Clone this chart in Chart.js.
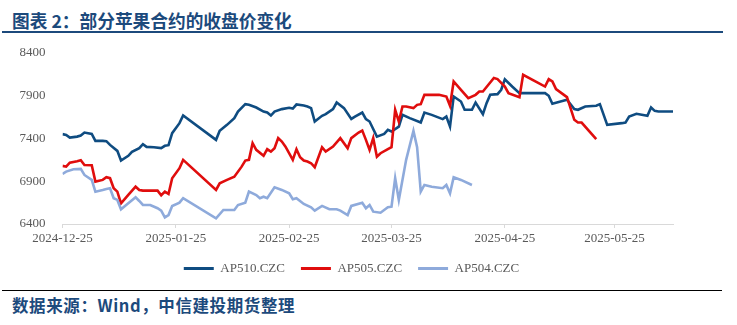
<!DOCTYPE html>
<html lang="zh-CN">
<head>
<meta charset="utf-8">
<title>部分苹果合约的收盘价变化</title>
<script src="https://cdn.jsdelivr.net/npm/chart.js@4.4.0/dist/chart.umd.min.js"></script>
<style>
    html, body { margin: 0; padding: 0; background: #fff; }
    body { width: 737px; height: 325px; position: relative; overflow: hidden; }
    .judul {
        position: absolute; left: 2px; top: 0; width: 721px; height: 33px;
        border-bottom: 2px solid #1c4a7c;
        font: bold 17.7px "Noto Sans CJK SC", sans-serif; color: #1c4a7c;
        line-height: 40px; padding-left: 10px; box-sizing: border-box;
    }
    .grafik { position: absolute; left: 0; top: 36px; width: 737px; height: 252px; }
    .sumber {
        position: absolute; left: 2px; top: 290px; width: 720px; height: 35px;
        border-top: 1px solid #000;
        font: bold 16.5px "Noto Sans CJK SC", sans-serif; color: #1c4a7c;
        letter-spacing: 0.6px;
        line-height: 28px; padding-left: 10px; box-sizing: border-box;
    }
</style>
</head>
<body>
<div class="judul">图表 2：部分苹果合约的收盘价变化</div>
<div class="grafik"><canvas id="lineChart"></canvas></div>
<div class="sumber">数据来源：Wind，中信建投期货整理</div>

<script>
// --- Data ---
const seriesNames = ['AP510.CZC', 'AP505.CZC', 'AP504.CZC'];
const xTickDates = ['2024-12-25', '2025-01-25', '2025-02-25', '2025-03-25', '2025-04-25', '2025-05-25'];
const xEndDate = '2025-06-10';
const yTicks = [6400, 6900, 7400, 7900, 8400];

const ap510Dates = [
    '2024-12-25', '2024-12-26', '2024-12-27', '2024-12-29', '2024-12-30', '2024-12-31', '2025-01-02', '2025-01-03', '2025-01-05', '2025-01-06',
    '2025-01-07', '2025-01-09', '2025-01-10', '2025-01-12', '2025-01-13', '2025-01-15', '2025-01-16', '2025-01-17', '2025-01-19', '2025-01-21',
    '2025-01-22', '2025-01-23', '2025-01-24', '2025-01-26', '2025-01-27', '2025-02-05', '2025-02-06', '2025-02-08', '2025-02-10', '2025-02-11',
    '2025-02-13', '2025-02-14', '2025-02-16', '2025-02-18', '2025-02-19', '2025-02-20', '2025-02-21', '2025-02-23', '2025-02-25', '2025-02-26',
    '2025-02-27', '2025-03-01', '2025-03-02', '2025-03-03', '2025-03-04', '2025-03-06', '2025-03-07', '2025-03-09', '2025-03-10', '2025-03-12',
    '2025-03-14', '2025-03-15', '2025-03-17', '2025-03-18', '2025-03-19', '2025-03-21', '2025-03-23', '2025-03-24', '2025-03-25', '2025-03-27',
    '2025-03-28', '2025-03-30', '2025-04-02', '2025-04-03', '2025-04-05', '2025-04-08', '2025-04-09', '2025-04-10', '2025-04-11', '2025-04-13',
    '2025-04-14', '2025-04-16', '2025-04-17', '2025-04-19', '2025-04-20', '2025-04-21', '2025-04-23', '2025-04-24', '2025-04-25', '2025-04-27',
    '2025-04-29', '2025-04-30', '2025-05-06', '2025-05-07', '2025-05-08', '2025-05-12', '2025-05-14', '2025-05-15', '2025-05-17', '2025-05-20',
    '2025-05-21', '2025-05-23', '2025-05-27', '2025-05-28', '2025-05-29', '2025-05-31', '2025-06-03', '2025-06-04', '2025-06-05', '2025-06-06',
    '2025-06-10'
];
const ap510Values = [
    7450, 7441, 7410, 7421, 7433, 7468, 7453, 7371, 7371, 7368,
    7324, 7254, 7141, 7196, 7242, 7286, 7332, 7301, 7297, 7286,
    7313, 7321, 7461, 7578, 7667, 7383, 7488, 7558, 7637, 7714,
    7800, 7792, 7761, 7714, 7702, 7667, 7714, 7742, 7757, 7749,
    7796, 7784, 7772, 7754, 7597, 7664, 7683, 7742, 7819, 7754,
    7628, 7655, 7702, 7625, 7597, 7421, 7453, 7500, 7480, 7538,
    7675, 7637, 7585, 7702, 7675, 7625, 7655, 7538, 7889, 7831,
    7734, 7734, 7819, 7683, 7812, 7909, 7917, 7968, 8090, 8006,
    7929, 7929, 7929, 7898, 7804, 7851, 7742, 7734, 7772, 7781,
    7800, 7558, 7578, 7585, 7655, 7687, 7664, 7761, 7722, 7715,
    7714
];

const ap505Dates = [
    '2024-12-25', '2024-12-26', '2024-12-27', '2024-12-29', '2024-12-30', '2024-12-31', '2025-01-02', '2025-01-03', '2025-01-05', '2025-01-06',
    '2025-01-07', '2025-01-08', '2025-01-09', '2025-01-10', '2025-01-12', '2025-01-14', '2025-01-15', '2025-01-16', '2025-01-20', '2025-01-21',
    '2025-01-22', '2025-01-23', '2025-01-24', '2025-01-26', '2025-01-27', '2025-02-05', '2025-02-06', '2025-02-08', '2025-02-10', '2025-02-12',
    '2025-02-13', '2025-02-14', '2025-02-15', '2025-02-16', '2025-02-18', '2025-02-19', '2025-02-20', '2025-02-21', '2025-02-22', '2025-02-23',
    '2025-02-24', '2025-02-26', '2025-02-27', '2025-02-28', '2025-03-01', '2025-03-02', '2025-03-03', '2025-03-04', '2025-03-06', '2025-03-07',
    '2025-03-09', '2025-03-11', '2025-03-13', '2025-03-14', '2025-03-16', '2025-03-17', '2025-03-18', '2025-03-19', '2025-03-20', '2025-03-21',
    '2025-03-22', '2025-03-24', '2025-03-25', '2025-03-26', '2025-03-27', '2025-03-28', '2025-03-29', '2025-03-31', '2025-04-01', '2025-04-02',
    '2025-04-03', '2025-04-07', '2025-04-09', '2025-04-10', '2025-04-11', '2025-04-13', '2025-04-15', '2025-04-17', '2025-04-18', '2025-04-19',
    '2025-04-22', '2025-04-23', '2025-04-25', '2025-04-26', '2025-04-29', '2025-04-30', '2025-05-06', '2025-05-07', '2025-05-08', '2025-05-09',
    '2025-05-12', '2025-05-14', '2025-05-15', '2025-05-16', '2025-05-20'
];
const ap505Values = [
    7079, 7070, 7117, 7134, 7145, 7090, 7087, 6895, 6915, 6946,
    6935, 6818, 6778, 6642, 6739, 6836, 6798, 6790, 6790, 6736,
    6778, 6751, 6935, 7052, 7149, 6798, 6876, 6915, 6953, 7070,
    7141, 7149, 7344, 7266, 7196, 7274, 7246, 7286, 7403, 7363,
    7304, 7149, 7274, 7180, 7141, 7129, 7110, 7063, 7297, 7246,
    7304, 7403, 7286, 7403, 7468, 7492, 7383, 7266, 7403, 7187,
    7227, 7274, 7297, 7734, 7597, 7772, 7772, 7754, 7792, 7800,
    7909, 7909, 7889, 7781, 8065, 7968, 7871, 7909, 7948, 7948,
    8105, 8093, 8006, 7929, 7882, 8143, 8006, 8093, 8065, 7976,
    7882, 7617, 7585, 7585, 7391
];

const ap504Dates = [
    '2024-12-25', '2024-12-26', '2024-12-28', '2024-12-30', '2024-12-31', '2025-01-02', '2025-01-03', '2025-01-05', '2025-01-06', '2025-01-07',
    '2025-01-08', '2025-01-09', '2025-01-10', '2025-01-12', '2025-01-14', '2025-01-15', '2025-01-16', '2025-01-18', '2025-01-20', '2025-01-21',
    '2025-01-22', '2025-01-23', '2025-01-24', '2025-01-26', '2025-01-27', '2025-02-05', '2025-02-07', '2025-02-10', '2025-02-11', '2025-02-13',
    '2025-02-14', '2025-02-16', '2025-02-17', '2025-02-18', '2025-02-19', '2025-02-21', '2025-02-23', '2025-02-25', '2025-02-26', '2025-02-27',
    '2025-03-01', '2025-03-03', '2025-03-04', '2025-03-06', '2025-03-08', '2025-03-10', '2025-03-11', '2025-03-13', '2025-03-14', '2025-03-17',
    '2025-03-18', '2025-03-19', '2025-03-20', '2025-03-22', '2025-03-24', '2025-03-25', '2025-03-26', '2025-03-27', '2025-03-29', '2025-03-31',
    '2025-04-01', '2025-04-02', '2025-04-03', '2025-04-05', '2025-04-08', '2025-04-09', '2025-04-10', '2025-04-11', '2025-04-13', '2025-04-16'
];
const ap504Values = [
    6985, 7012, 7040, 7044, 6973, 6915, 6778, 6798, 6810, 6818,
    6701, 6681, 6572, 6642, 6712, 6669, 6622, 6622, 6584, 6556,
    6478, 6505, 6611, 6649, 6701, 6467, 6564, 6564, 6622, 6649,
    6778, 6739, 6701, 6719, 6701, 6829, 6798, 6759, 6689, 6701,
    6634, 6595, 6556, 6611, 6572, 6572, 6556, 6505, 6611, 6649,
    6584, 6622, 6544, 6532, 6595, 6602, 6935, 6681, 7149, 7488,
    7297, 6778, 6856, 6836, 6818, 6856, 6759, 6946, 6915, 6856
];

const seriesColors = ['#0f4c81', '#e00d0d', '#8eaadb'];

// Hari sejak 2024-12-25 (sumbu x berbasis tanggal kalender)
const BASE = Date.UTC(2024, 11, 25);
function dayOffset(str) {
    const [y, m, d] = str.split('-').map(Number);
    return (Date.UTC(y, m - 1, d) - BASE) / 864e5;
}
function dayToLabel(v) {
    return new Date(BASE + v * 864e5).toISOString().slice(0, 10);
}
function toPoints(dates, values) {
    return dates.map((d, i) => ({ x: dayOffset(d), y: values[i] }));
}

const axisFont = { family: "'Liberation Serif', 'Times New Roman', serif", size: 13 };

function initChart() {
    const ctx = document.getElementById('lineChart').getContext('2d');
    const allSeries = [
        toPoints(ap510Dates, ap510Values),
        toPoints(ap505Dates, ap505Values),
        toPoints(ap504Dates, ap504Values)
    ];

    new Chart(ctx, {
        type: 'line',
        data: {
            datasets: seriesNames.map((name, i) => ({
                label: name,
                data: allSeries[i],
                borderColor: seriesColors[i],
                backgroundColor: seriesColors[i],
                borderWidth: 2.6,
                pointRadius: 0,
                tension: 0,
                order: 3 - i
            }))
        },
        options: {
            responsive: true,
            maintainAspectRatio: false,
            animation: false,
            layout: { padding: { top: 13, left: 0, right: 34, bottom: 3 } },
            plugins: {
                legend: {
                    position: 'bottom',
                    labels: {
                        boxWidth: 30,
                        boxHeight: 3,
                        padding: 16,
                        color: '#595959',
                        font: axisFont,
                        sort: (a, b) => a.datasetIndex - b.datasetIndex,
                        generateLabels: (chart) => Chart.defaults.plugins.legend.labels.generateLabels(chart)
                            .map(l => ({ ...l, lineWidth: 0, fillStyle: seriesColors[l.datasetIndex] }))
                    }
                },
                tooltip: { enabled: false }
            },
            scales: {
                x: {
                    type: 'linear',
                    min: 0,
                    max: dayOffset(xEndDate),
                    afterBuildTicks: (scale) => {
                        scale.ticks = xTickDates.map(d => ({ value: dayOffset(d) }));
                    },
                    afterFit: (scale) => { scale.height = 22; },
                    grid: { display: true, drawOnChartArea: false, drawTicks: true, tickLength: 4, color: '#d9d9d9' },
                    border: { display: true, color: '#d9d9d9', width: 1 },
                    ticks: {
                        color: '#595959',
                        font: axisFont,
                        padding: 3,
                        maxRotation: 0,
                        autoSkip: false,
                        callback: (v) => dayToLabel(v)
                    }
                },
                y: {
                    min: yTicks[0],
                    max: yTicks[yTicks.length - 1],
                    afterBuildTicks: (scale) => {
                        scale.ticks = yTicks.map(v => ({ value: v }));
                    },
                    afterFit: (scale) => { scale.width = 62.5; },
                    grid: { display: false },
                    border: { display: false },
                    ticks: { color: '#595959', font: axisFont, padding: 9, callback: (v) => String(v) }
                },
                // sumbu kanan kosong, hanya untuk ruang agar legend berada di tengah
                yKosong: {
                    position: 'right',
                    display: true,
                    grid: { display: false },
                    border: { display: false },
                    ticks: { display: false },
                    afterFit: (scale) => { scale.width = 30; }
                }
            }
        }
    });
}

document.addEventListener('DOMContentLoaded', initChart);
</script>
</body>
</html>
